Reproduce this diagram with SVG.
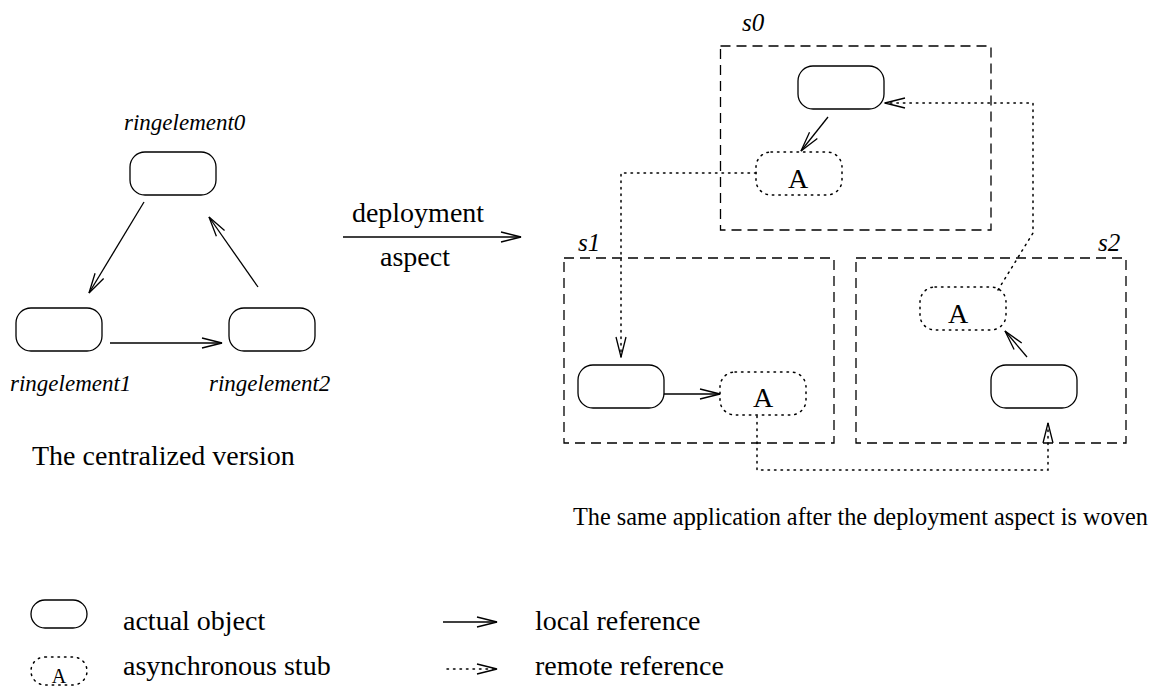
<svg xmlns="http://www.w3.org/2000/svg" width="1156" height="686" viewBox="0 0 1156 686">
<defs>
<style>
.obj{fill:none;stroke:#000;stroke-width:1.3}
.stub{fill:none;stroke:#000;stroke-width:1.5;stroke-dasharray:1.5 5;stroke-linecap:round}
.site{fill:none;stroke:#000;stroke-width:1.3;stroke-dasharray:10 6}
.loc{fill:none;stroke:#000;stroke-width:1.3;marker-end:url(#ah)}
.rem{fill:none;stroke:#000;stroke-width:1.5;stroke-dasharray:1.5 5;stroke-linecap:round;marker-end:url(#ah)}
.t{font-family:"Liberation Serif","Times New Roman",serif;font-size:28px;fill:#000}
.it{font-family:"Liberation Serif","Times New Roman",serif;font-style:italic;font-size:23px;fill:#000}
.st{font-family:"Liberation Serif","Times New Roman",serif;font-style:italic;font-size:25px;fill:#000}
</style>
<marker id="ah" viewBox="0 0 20 10" refX="20" refY="5" markerWidth="20" markerHeight="10" markerUnits="userSpaceOnUse" orient="auto" overflow="visible">
<path d="M0,0 L20,5 L0,10" fill="none" stroke="#000" stroke-width="1.3" stroke-dasharray="none"/>
</marker>
</defs>

<g id="ringelement0"><rect class="obj" x="130" y="152" width="86" height="43" rx="15"/><text class="it" x="124" y="130">ringelement0</text></g>
<g id="ringelement1"><rect class="obj" x="16" y="308" width="86" height="43" rx="15"/><text class="it" x="10" y="391">ringelement1</text></g>
<g id="ringelement2"><rect class="obj" x="229" y="308" width="86" height="43" rx="15"/><text class="it" x="209" y="391">ringelement2</text></g>
<text class="t" x="32" y="465">The centralized version</text>

<g id="deploy-arrow"><text class="t" x="418" y="222" text-anchor="middle">deployment</text><text class="t" x="415" y="266" text-anchor="middle">aspect</text></g>

<g id="s0"><rect class="site" x="720.5" y="46" width="270.5" height="184"/><text class="st" x="742" y="31">s0</text></g>
<g id="s1"><rect class="site" x="564" y="258" width="270" height="185"/><text class="st" x="578" y="251">s1</text></g>
<g id="s2"><rect class="site" x="856" y="258" width="270" height="185"/><text class="st" x="1098" y="251">s2</text></g>

<g id="s0-obj"><rect class="obj" x="798" y="66" width="86" height="43" rx="15"/></g>
<g id="s0-stub"><rect class="stub" x="756" y="152" width="86" height="43" rx="15"/><text class="t" x="798" y="188" text-anchor="middle">A</text></g>
<g id="s1-obj"><rect class="obj" x="578" y="365" width="86" height="43" rx="15"/></g>
<g id="s1-stub"><rect class="stub" x="720" y="372" width="86" height="43" rx="15"/><text class="t" x="763" y="407" text-anchor="middle">A</text></g>
<g id="s2-obj"><rect class="obj" x="991" y="365" width="86" height="43" rx="15"/></g>
<g id="s2-stub"><rect class="stub" x="920" y="287" width="86" height="43" rx="15"/><text class="t" x="958" y="323" text-anchor="middle">A</text></g>

<text class="t" x="573" y="525" style="font-size:24.3px">The same application after the deployment aspect is woven</text>

<g id="connectors">
<line class="loc" x1="144" y1="202" x2="89" y2="293"/>
<line class="loc" x1="110" y1="343" x2="222" y2="343"/>
<line class="loc" x1="258" y1="287" x2="209" y2="217"/>
<line class="loc" x1="343" y1="237" x2="521" y2="237"/>
<line class="loc" x1="828" y1="117" x2="801" y2="151"/>
<line class="loc" x1="664" y1="394" x2="720" y2="394"/>
<line class="loc" x1="1027" y1="357" x2="1005" y2="331"/>
<path class="rem" d="M756,173 H621 V357"/>
<path class="rem" d="M757,416 V470 H1048 V423"/>
<path class="rem" d="M998,290 L1033,233 V103 H885"/>
</g>

<g id="legend">
<rect class="obj" x="31" y="600" width="56" height="28" rx="14"/>
<text class="t" x="123" y="630">actual object</text>
<rect class="stub" x="31" y="657" width="56" height="28" rx="14"/>
<text x="59" y="683" text-anchor="middle" style="font-family:'Liberation Serif',serif;font-size:20px">A</text>
<text class="t" x="123" y="675">asynchronous stub</text>
<line class="loc" x1="443" y1="622" x2="497" y2="622"/>
<text class="t" x="535" y="630">local reference</text>
<line class="rem" x1="447" y1="669" x2="497" y2="669"/>
<text class="t" x="535" y="675">remote reference</text>
</g>
</svg>
